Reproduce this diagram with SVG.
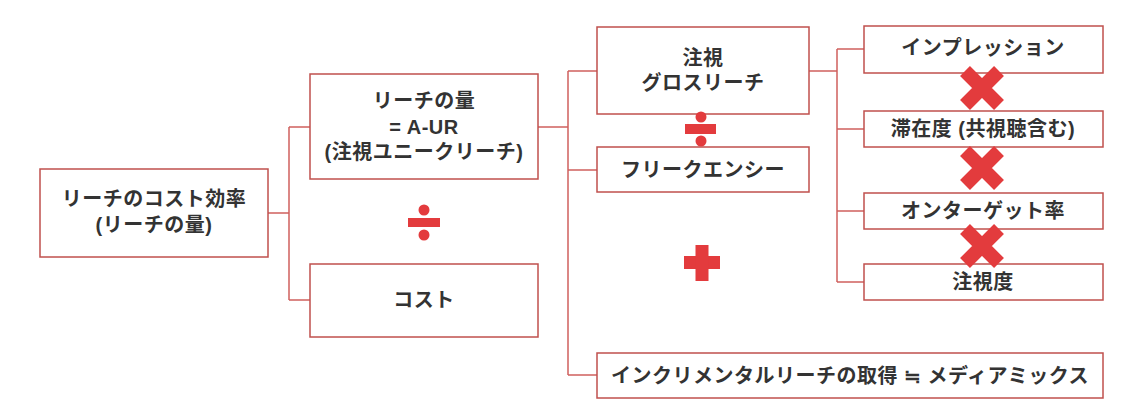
<svg xmlns="http://www.w3.org/2000/svg" width="1135" height="405" viewBox="0 0 1135 405">
<style>
.box{fill:#fff;stroke:#c0504d;stroke-width:1.5}
.con{fill:none;stroke:#d0605e;stroke-width:1.5}
.t{font-family:"Liberation Sans","Noto Sans CJK JP",sans-serif;font-weight:bold;font-size:20px;letter-spacing:0.5px;fill:#333;text-anchor:middle;dominant-baseline:central}
.sym{fill:#e33b3d}
.x{stroke:#e33b3d;stroke-width:14;fill:none}
</style>
<rect width="1135" height="405" fill="#fff"/>
<g id="connectors">
<path class="con" d="M268,213H289M289,127V300M289,127H310M289,300H310"/>
<path class="con" d="M538,127H568M568,71V375M568,71H597M568,170H597M568,375H597"/>
<path class="con" d="M809,71H837M837,49V282M837,49H864M837,129H864M837,211H864M837,282H864"/>
</g>
<g id="n-efficiency"><rect class="box" x="40" y="169" width="228" height="88"/><text class="t" x="154" y="199">リーチのコスト効率</text><text class="t" x="154" y="225">(リーチの量)</text></g>
<g id="n-reach"><rect class="box" x="310" y="74" width="228" height="105"/><text class="t" x="424" y="101">リーチの量</text><text class="t" x="424" y="127">= A-UR</text><text class="t" x="424" y="152">(注視ユニークリーチ)</text></g>
<g id="n-cost"><rect class="box" x="310" y="264" width="228" height="73"/><text class="t" x="424" y="300">コスト</text></g>
<g id="n-gross"><rect class="box" x="597" y="27" width="212" height="87"/><text class="t" x="703" y="58">注視</text><text class="t" x="703" y="83">グロスリーチ</text></g>
<g id="n-freq"><rect class="box" x="597" y="147" width="212" height="45"/><text class="t" x="703" y="170">フリークエンシー</text></g>
<g id="n-incr"><rect class="box" x="597" y="353" width="506" height="45"/><text class="t" x="850" y="376">インクリメンタルリーチの取得 ≒ メディアミックス</text></g>
<g id="n-imp"><rect class="box" x="864" y="26" width="239" height="47"/><text class="t" x="983" y="48">インプレッション</text></g>
<g id="n-stay"><rect class="box" x="864" y="111" width="239" height="36"/><text class="t" x="983" y="129">滞在度 (共視聴含む)</text></g>
<g id="n-target"><rect class="box" x="864" y="193" width="239" height="36"/><text class="t" x="983" y="211">オンターゲット率</text></g>
<g id="n-attention"><rect class="box" x="864" y="264" width="239" height="36"/><text class="t" x="983" y="282">注視度</text></g>
<g id="symbols">
<g class="sym"><circle cx="424" cy="210" r="5.5"/><rect x="408" y="218" width="32" height="9"/><circle cx="424" cy="235" r="5.5"/></g>
<g class="sym"><circle cx="701" cy="117" r="5.5"/><rect x="685" y="124" width="31" height="10"/><circle cx="701" cy="141" r="5.5"/></g>
<g class="sym"><rect x="684" y="256" width="36" height="13"/><rect x="695.5" y="245" width="13" height="36"/></g>
<path class="x" d="M965,71L999,105M999,71L965,105"/>
<path class="x" d="M965,151L999,185M999,151L965,185"/>
<path class="x" d="M965,229L999,263M999,229L965,263"/>
</g>
</svg>
